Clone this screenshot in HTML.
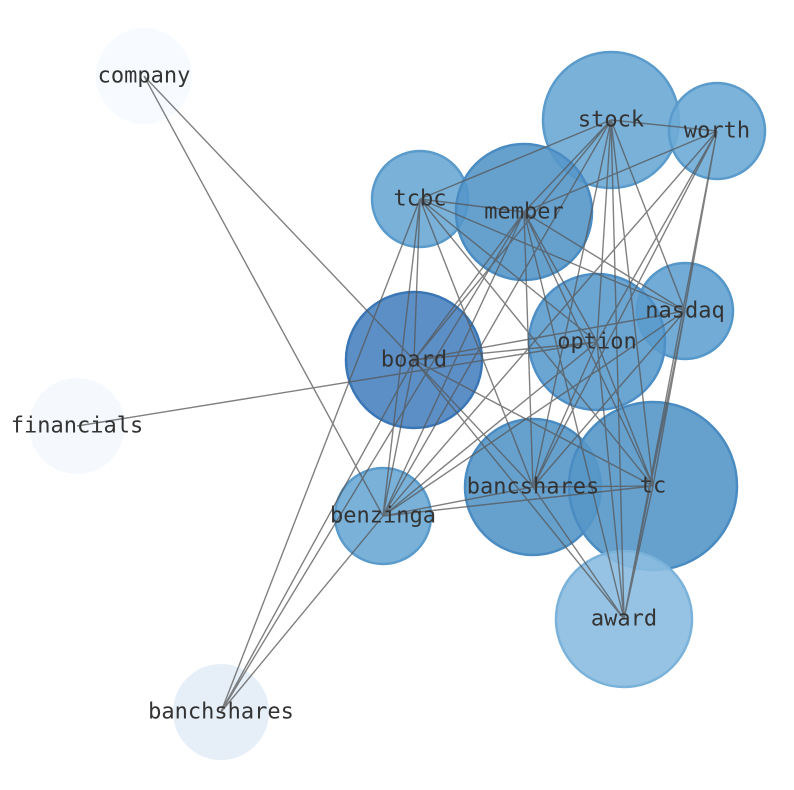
<!DOCTYPE html>
<html><head><meta charset="utf-8"><style>body{margin:0;background:#fff}svg{display:block}</style></head><body>
<svg width="794" height="790" viewBox="0 0 794 790" xmlns="http://www.w3.org/2000/svg">
<g stroke-width="2.5">
<circle cx="144" cy="76" r="48" fill="#f7fbff"/>
<circle cx="77" cy="426" r="48" fill="#f5f9fe"/>
<circle cx="221" cy="712" r="48" fill="#e6eff8"/>
<circle cx="611" cy="120" r="68" fill="#6aa8d5" stroke="#5a9bcc" fill-opacity="0.9"/>
<circle cx="717" cy="131" r="48" fill="#6eabd6" stroke="#5a9bcc" fill-opacity="0.9"/>
<circle cx="420" cy="199" r="48" fill="#6aa8d5" stroke="#5a9bcc" fill-opacity="0.9"/>
<circle cx="524" cy="212" r="68" fill="#5597c9" stroke="#4a8cc2" fill-opacity="0.9"/>
<circle cx="685" cy="311" r="48" fill="#63a2d2" stroke="#5597c9" fill-opacity="0.9"/>
<circle cx="597" cy="342" r="68" fill="#5b9bcd" stroke="#4d8fc6" fill-opacity="0.9"/>
<circle cx="414" cy="360" r="68" fill="#4a83c0" stroke="#3a76b6" fill-opacity="0.9"/>
<circle cx="533" cy="487" r="68" fill="#5597c9" stroke="#4a8cc2" fill-opacity="0.9"/>
<circle cx="653" cy="486" r="84" fill="#5597c9" stroke="#4a8cc2" fill-opacity="0.9"/>
<circle cx="383" cy="516" r="48" fill="#6aa8d5" stroke="#5a9bcc" fill-opacity="0.9"/>
<circle cx="624" cy="619" r="68" fill="#8bbde0" stroke="#7ab2da" fill-opacity="0.9"/>
</g>
<g stroke="#555" stroke-opacity="0.75" stroke-width="1.4" fill="none">
<path d="M144 76L414 360M144 76L383 516M77 426L597 342M221 712L420 199M221 712L414 360M221 712L524 212M221 712L383 516
M611 120L420 199M611 120L524 212M611 120L414 360M611 120L533 487M611 120L624 619M611 120L653 486M611 120L685 311M611 120L717 131M611 120L597 342M611 120L383 516
M717 131L524 212M717 131L597 342M717 131L653 486M717 131L624 619M717 131L533 487M717 131L383 516
M420 199L524 212M420 199L414 360M420 199L383 516M420 199L533 487M420 199L597 342M420 199L685 311M420 199L653 486
M524 212L414 360M524 212L533 487M524 212L597 342M524 212L685 311M524 212L653 486M524 212L624 619M524 212L383 516
M414 360L597 342M414 360L685 311M414 360L533 487M414 360L653 486M414 360L624 619M414 360L383 516
M685 311L533 487M685 311L653 486M685 311L383 516M685 311L624 619
M597 342L533 487M597 342L653 486M597 342L624 619M597 342L383 516
M533 487L653 486M533 487L383 516M533 487L624 619M653 486L383 516M653 486L624 619"/>
</g>
<g font-family="'DejaVu Sans Mono','Liberation Mono',monospace" font-size="22" fill="#333" text-anchor="middle" dominant-baseline="central">
<text x="144" y="76">company</text>
<text x="611" y="120">stock</text>
<text x="717" y="131">worth</text>
<text x="420" y="199">tcbc</text>
<text x="524" y="212">member</text>
<text x="685" y="311">nasdaq</text>
<text x="597" y="342">option</text>
<text x="414" y="360">board</text>
<text x="77" y="426">financials</text>
<text x="533" y="487">bancshares</text>
<text x="653" y="486">tc</text>
<text x="383" y="516">benzinga</text>
<text x="624" y="619">award</text>
<text x="221" y="712">banchshares</text>
</g>
</svg>
</body></html>
